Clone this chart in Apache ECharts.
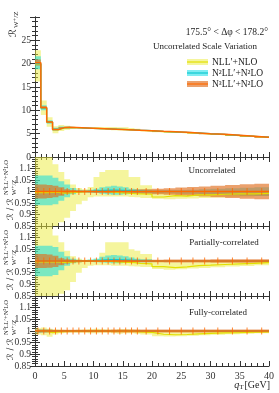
<!DOCTYPE html>
<html><head><meta charset="utf-8">
<script src="https://cdn.jsdelivr.net/npm/echarts@6/dist/echarts.min.js"></script>
<style>html,body{margin:0;padding:0;background:#fff}#c{width:279px;height:393px}</style>
</head><body><div id="c"></div>
<script>
// bin edges (GeV)
const edges = [0,1,2,3,4,5,6,7,8,9,10,11,12,13,14,15,16,17,18,20,22,24,26,28,30,32.5,35,37.5,40];
const xTicks = [0,5,10,15,20,25,30,35,40];
const legendNames = ["NLL\u2032+NLO","N\u00b2LL\u2032+N\u00b2LO","N\u00b3LL\u2032+N\u00b2LO"];
const panelNames = ["Uncorrelated","Partially-correlated","Fully-correlated"];

// top panel: R_{W+/Z}
const topO = [20.2,10.6,7.5,5.9,6.3,6.35,6.3,6.25,6.2,6.15,6.1,6.05,6.0,5.95,5.9,5.85,5.8,5.75,5.65,5.5,5.4,5.3,5.15,5.0,4.85,4.65,4.45,4.25];
const topY = [19.9,10.5,7.45,5.85,6.2,6.3,6.27,6.24,6.2,6.14,6.12,6.1,6.06,6.0,5.95,5.88,5.8,5.73,5.6,5.42,5.33,5.23,5.09,4.95,4.8,4.6,4.41,4.22];
const topC = [20.0,10.5,7.5,5.9,6.3,6.33,6.3,6.25,6.2,6.15,6.1,6.06,6.02,5.97,5.92,5.87,5.81,5.75,5.65,5.5,5.4,5.3,5.15,5.0,4.85,4.65,4.45,4.25];
const topYHi = [22.9,12.1,8.5,6.6,6.85,6.7,6.5,6.35,6.27,6.27,6.35,6.4,6.45,6.45,6.4,6.35,6.2,6.05,5.8,5.55,5.42,5.3,5.15,5.0,4.85,4.65,4.45,4.25];
const topYLo = [16.2,9.0,6.5,5.1,5.55,5.85,6.0,6.1,6.1,6.0,5.95,5.85,5.8,5.75,5.7,5.65,5.6,5.55,5.45,5.3,5.22,5.12,5.0,4.85,4.72,4.52,4.33,4.15];
const topCHi = [21.6,11.1,7.9,6.25,6.55,6.5,6.38,6.3,6.25,6.2,6.17,6.15,6.12,6.08,6.02,5.95,5.87,5.8,5.7,5.55,5.45,5.35,5.2,5.05,4.9,4.7,4.5,4.3];
const topCLo = [18.8,10.0,7.1,5.6,6.0,6.15,6.2,6.2,6.15,6.1,6.05,6.0,5.96,5.92,5.87,5.82,5.76,5.7,5.6,5.45,5.33,5.22,5.07,4.92,4.77,4.57,4.37,4.17];
const topOHi = [20.9,10.9,7.7,6.05,6.42,6.42,6.33,6.27,6.22,6.17,6.12,6.08,6.03,5.98,5.94,5.9,5.85,5.8,5.72,5.58,5.5,5.41,5.27,5.13,4.99,4.8,4.6,4.41];
const topOLo = [19.6,10.3,7.3,5.75,6.18,6.28,6.27,6.23,6.18,6.13,6.08,6.02,5.97,5.92,5.86,5.8,5.75,5.7,5.58,5.42,5.3,5.19,5.03,4.87,4.71,4.5,4.3,4.09];

// ratio panels (ratio to N3LL'+N2LO central)
const ratioO = [1,1,1,1,1,1,1,1,1,1,1,1,1,1,1,1,1,1,1,1,1,1,1,1,1,1,1,1];
// Uncorrelated
const uYHi = [1.2,1.2,1.2,1.118,1.085,1.053,1.03,1.015,1.01,1.02,1.063,1.085,1.093,1.093,1.093,1.093,1.063,1.063,1.027,0.998,0.995,0.995,0.995,0.995,0.997,0.998,0.999,1.0];
const uYLo = [0.8,0.8,0.8,0.8,0.866,0.886,0.915,0.945,0.96,0.975,0.978,0.978,0.978,0.978,0.978,0.978,0.976,0.975,0.972,0.968,0.966,0.968,0.97,0.972,0.974,0.976,0.978,0.98];
const uY = [0.995,0.995,0.996,0.996,0.993,0.994,0.996,0.998,1.0,1.0,1.0,1.0,0.998,0.996,0.994,0.993,0.991,0.99,0.988,0.976,0.982,0.98,0.985,0.985,0.988,0.99,0.99,0.992];
const uCHi = [1.07,1.07,1.07,1.06,1.045,1.03,1.015,1.008,1.005,1.008,1.012,1.018,1.022,1.025,1.022,1.018,1.012,1.01,1.008,1.006,1.006,1.006,1.008,1.01,1.012,1.014,1.016,1.018];
const uCLo = [0.94,0.94,0.94,0.945,0.96,0.975,0.988,0.994,0.996,0.995,0.993,0.99,0.988,0.986,0.986,0.988,0.99,0.992,0.992,0.992,0.992,0.99,0.99,0.988,0.986,0.984,0.982,0.98];
const uC = [1.0,1.0,1.0,1.0,1.0,1.0,1.0,1.0,1.0,1.002,1.004,1.005,1.006,1.006,1.005,1.004,1.003,1.002,1.0,1.0,1.0,1.0,1.0,1.0,1.0,1.0,1.0,1.0];
const uOHi = [1.03,1.03,1.028,1.025,1.018,1.01,1.006,1.004,1.004,1.004,1.005,1.005,1.006,1.006,1.007,1.007,1.008,1.009,1.01,1.012,1.014,1.017,1.02,1.022,1.025,1.028,1.031,1.034];
const uOLo = [0.97,0.97,0.972,0.975,0.982,0.99,0.994,0.996,0.996,0.996,0.995,0.995,0.994,0.994,0.993,0.993,0.992,0.991,0.99,0.988,0.986,0.983,0.98,0.978,0.975,0.972,0.969,0.966];
// Partially-correlated
const pYHi = [1.2,1.2,1.2,1.109,1.08,1.044,1.02,1.01,1.005,1.005,1.01,1.035,1.08,1.08,1.08,1.08,1.05,1.044,1.03,1.0,0.995,0.995,0.995,0.997,0.998,0.999,1.0,1.0];
const pYLo = [0.8,0.8,0.8,0.8,0.86,0.875,0.91,0.95,0.97,0.98,0.982,0.982,0.982,0.98,0.98,0.98,0.978,0.976,0.974,0.966,0.962,0.965,0.968,0.97,0.973,0.976,0.979,0.982];
const pY = [0.996,0.996,0.996,0.996,0.994,0.995,0.997,0.998,1.0,1.0,1.0,0.999,0.998,0.996,0.995,0.994,0.993,0.99,0.988,0.976,0.972,0.975,0.98,0.982,0.985,0.988,0.99,0.993];
const pCHi = [1.065,1.065,1.065,1.06,1.04,1.02,1.01,1.005,1.004,1.006,1.01,1.018,1.024,1.026,1.024,1.02,1.015,1.01,1.007,1.004,1.003,1.003,1.003,1.003,1.003,1.003,1.003,1.003];
const pCLo = [0.935,0.935,0.935,0.94,0.96,0.98,0.99,0.995,0.996,0.996,0.995,0.994,0.992,0.99,0.99,0.991,0.993,0.994,0.995,0.996,0.996,0.996,0.996,0.996,0.996,0.996,0.996,0.996];
const pC = [1.0,1.0,1.0,1.0,1.0,1.0,1.0,1.0,1.0,1.001,1.003,1.005,1.006,1.006,1.005,1.004,1.003,1.002,1.0,1.0,1.0,1.0,1.0,1.0,1.0,1.0,1.0,1.0];
const pOHi = [1.03,1.03,1.028,1.022,1.012,1.007,1.005,1.004,1.004,1.004,1.004,1.004,1.004,1.004,1.005,1.005,1.005,1.005,1.005,1.005,1.006,1.006,1.006,1.006,1.007,1.007,1.007,1.007];
const pOLo = [0.97,0.97,0.971,0.974,0.982,0.989,0.993,0.995,0.996,0.996,0.996,0.996,0.996,0.996,0.995,0.995,0.995,0.995,0.995,0.995,0.994,0.994,0.994,0.994,0.993,0.993,0.993,0.993];
// Fully-correlated
const fYHi = [1.012,1.015,1.01,1.006,1.005,1.004,1.004,1.005,1.006,1.008,1.01,1.008,1.006,1.005,1.008,1.008,1.006,1.005,1.004,0.998,0.996,0.996,0.998,0.999,1.0,1.001,1.002,1.002];
const fYLo = [0.985,0.982,0.975,0.985,0.99,0.993,0.993,0.992,0.992,0.99,0.99,0.992,0.992,0.99,0.988,0.99,0.99,0.988,0.985,0.978,0.976,0.977,0.98,0.982,0.984,0.986,0.988,0.99];
const fY = [0.998,0.998,0.993,0.996,0.997,0.998,0.998,0.999,1.0,1.0,1.0,1.0,0.999,0.998,0.998,0.999,0.998,0.996,0.994,0.986,0.984,0.985,0.988,0.99,0.992,0.993,0.995,0.996];
const fCHi = [1.006,1.006,1.005,1.004,1.004,1.003,1.003,1.003,1.003,1.003,1.003,1.003,1.003,1.003,1.003,1.003,1.003,1.003,1.003,1.003,1.003,1.003,1.003,1.003,1.003,1.003,1.003,1.003];
const fCLo = [0.992,0.994,0.995,0.996,0.996,0.997,0.997,0.997,0.997,0.997,0.997,0.997,0.997,0.997,0.997,0.997,0.997,0.997,0.997,0.997,0.997,0.997,0.997,0.997,0.997,0.997,0.997,0.997];
const fC = [0.999,1.0,1.0,1.0,1.0,1.0,1.0,1.0,1.0,1.0,1.0,1.0,1.0,1.0,1.0,1.0,1.0,1.0,1.0,1.0,1.0,1.0,1.0,1.0,1.0,1.0,1.0,1.0];
const fOHi = [1.006,1.006,1.006,1.005,1.005,1.005,1.005,1.005,1.005,1.005,1.005,1.005,1.005,1.006,1.006,1.006,1.006,1.006,1.006,1.006,1.006,1.006,1.006,1.006,1.006,1.006,1.006,1.006];
const fOLo = [0.994,0.994,0.994,0.995,0.995,0.995,0.995,0.995,0.995,0.995,0.995,0.995,0.995,0.994,0.994,0.994,0.994,0.994,0.994,0.994,0.994,0.994,0.994,0.994,0.994,0.994,0.994,0.994];

const FONT = "'Liberation Serif','DejaVu Serif',serif";
const COL = {
  yBand: 'rgba(235,235,60,0.5)', cBand: 'rgba(0,220,230,0.5)', oBand: 'rgba(225,110,30,0.65)',
  yLine: '#e2e000', cLine: '#10c8d0', oLine: '#ff6a00', ax: '#333'
};
const grids = [
  {left:35, right:10, top:17, height:140},
  {left:35, right:10, top:157, height:69},
  {left:35, right:10, top:226, height:70},
  {left:35, right:10, top:296, height:70}
];

function stepPts(vals){ const p=[]; vals.forEach((v,i)=>{p.push([edges[i],v]);p.push([edges[i+1],v]);}); return p; }
function band(g, lo, hi, color){
  return {type:'custom', xAxisIndex:2*g, yAxisIndex:2*g, clip:true, silent:true, z:2, data:[[0,0]],
    renderItem:(params, api)=>{
      const up=[], dn=[];
      lo.forEach((l,i)=>{ up.push(api.coord([edges[i],hi[i]]), api.coord([edges[i+1],hi[i]]));
                         dn.push(api.coord([edges[i],l]), api.coord([edges[i+1],l])); });
      return {type:'polygon', shape:{points: up.concat(dn.reverse())}, style:{fill:color}};
    }};
}
function line(g, vals, color, w){
  return {type:'line', xAxisIndex:2*g, yAxisIndex:2*g, data:stepPts(vals), showSymbol:false, symbol:'none',
    lineStyle:{color:color, width:w}, z:5, silent:true, animation:false};
}
function bars(g, vals){
  return {type:'scatter', xAxisIndex:2*g, yAxisIndex:2*g, symbol:'rect', symbolSize:[1,7], z:6, silent:true,
    itemStyle:{color:COL.oLine}, data: vals.map((v,i)=>[(edges[i]+edges[i+1])/2, v])};
}

const xAxes=[], yAxes=[];
grids.forEach((gr,g)=>{
  const isTop = g===0, isLast = g===3;
  const common = {type:'value', gridIndex:g, min:0, max:40, interval:5,
    axisLine:{show:true, lineStyle:{color:COL.ax, width:1}},
    axisTick:{show:true, inside:true, length:5, lineStyle:{color:COL.ax}},
    minorTick:{show:true, splitNumber:5, length:3, lineStyle:{color:COL.ax}},
    splitLine:{show:false}, minorSplitLine:{show:false}};
  xAxes.push(Object.assign({}, common, {position:'bottom',
    axisLabel:{show:isLast, fontFamily:FONT, fontSize:10, color:'#333', margin:5}}));
  xAxes.push(Object.assign({}, common, {position:'top', axisLabel:{show:false}}));
  const yr = isTop ? {min:0, max:30, interval:5} : {min:0.85, max:1.15, interval:0.05};
  const ycommon = Object.assign({type:'value', gridIndex:g,
    axisLine:{show:true, lineStyle:{color:COL.ax, width:1}},
    axisTick:{show:true, inside:true, length:5, lineStyle:{color:COL.ax}},
    minorTick:{show:true, splitNumber:5, length:3, lineStyle:{color:COL.ax}},
    splitLine:{show:false}, minorSplitLine:{show:false}}, yr);
  yAxes.push(Object.assign({}, ycommon, {position:'left',
    axisLabel:{show:true, fontFamily:FONT, fontSize:9.5, color:'#333', margin:4,
      formatter:(v)=>{ if (Math.abs(v-yr.max)<1e-6) return ''; return String(+v.toFixed(2)); }}}));
  yAxes.push(Object.assign({}, ycommon, {position:'right', axisLabel:{show:false}}));
});

const series = [
  band(0, topYLo, topYHi, COL.yBand), band(0, topCLo, topCHi, COL.cBand), band(0, topOLo, topOHi, COL.oBand),
  line(0, topY, COL.yLine, 1.2), line(0, topC, COL.cLine, 1.2), line(0, topO, COL.oLine, 1.5)
];
[[uYLo,uYHi,uY,uCLo,uCHi,uC,uOLo,uOHi],[pYLo,pYHi,pY,pCLo,pCHi,pC,pOLo,pOHi],[fYLo,fYHi,fY,fCLo,fCHi,fC,fOLo,fOHi]]
.forEach((d,k)=>{
  const g=k+1;
  series.push(band(g,d[0],d[1],COL.yBand), band(g,d[3],d[4],COL.cBand), band(g,d[6],d[7],COL.oBand),
    line(g,d[2],COL.yLine,1.2), line(g,d[5],COL.cLine,1.2), line(g,ratioO,COL.oLine,1.5), bars(g, ratioO));
});

const T = (x,y,text,opt)=>({type:'text', x:x, y:y, silent:true, z:20,
  style:Object.assign({text:text, fontFamily:FONT, fontSize:9, fill:'#222', align:'left', verticalAlign:'middle'}, opt||{})});

const graphic = [
  T(268, 32, "175.5\u00b0 < \u0394\u03c6 < 178.2\u00b0", {align:'right', fontSize:9.5}),
  T(205, 47, "Uncorrelated Scale Variation", {align:'center', fontSize:9}),
];
const legY=[62,73,84], legBand=[COL.yBand,COL.cBand,COL.oBand], legLine=[COL.yLine,COL.cLine,COL.oLine];
legendNames.forEach((n,i)=>{
  graphic.push({type:'rect', shape:{x:187,y:legY[i]-3,width:21,height:6}, style:{fill:legBand[i]}, silent:true, z:20});
  graphic.push({type:'line', shape:{x1:187,y1:legY[i],x2:208,y2:legY[i]}, style:{stroke:legLine[i], lineWidth:1.2}, silent:true, z:21});
  graphic.push(T(212, legY[i], n, {fontSize:9.5}));
});
graphic.push(T(212, 171, panelNames[0], {align:'center'}));
graphic.push(T(224, 243, panelNames[1], {align:'center'}));
graphic.push(T(218, 313, panelNames[2], {align:'center'}));
// x-axis title
graphic.push({type:'text', x:270, y:385, silent:true, z:20, style:{
  text:'{i|q}{s|T}{n|[GeV]}', align:'right', verticalAlign:'middle',
  rich:{i:{fontFamily:FONT, fontStyle:'italic', fontSize:10, fill:'#222', lineHeight:12, verticalAlign:'middle'},
        s:{fontFamily:FONT, fontSize:7, fill:'#222', lineHeight:12, verticalAlign:'bottom', padding:[0,1,0,0]},
        n:{fontFamily:FONT, fontSize:10, fill:'#222', lineHeight:12, verticalAlign:'middle'}}}});
// y-axis titles (rotated groups)
graphic.push({type:'group', x:13, y:37, rotation:Math.PI/2, silent:true, z:20, children:[
  {type:'text', x:0, y:0, style:{text:'\u211b', fontFamily:"'DejaVu Serif','DejaVu Sans',serif", fontSize:10, fill:'#222', align:'left', verticalAlign:'middle'}},
  {type:'text', x:9, y:3, style:{text:'W\u207a/Z', fontFamily:FONT, fontSize:7, fill:'#222', align:'left', verticalAlign:'middle'}}
]});
[ [191,157,69], [261,226,70], [331,296,70] ].forEach((p)=>{
  const cy = p[0];
  graphic.push({type:'group', x:11, y:cy+29, rotation:Math.PI/2, silent:true, z:20, children:[
    {type:'text', x:0, y:0, style:{text:'\u211b / \u211b', fontFamily:"'DejaVu Serif','DejaVu Sans',serif", fontSize:8.5, fill:'#222', align:'left', verticalAlign:'middle'}},
    {type:'text', x:25, y:-4.5, style:{text:'N\u00b3LL\u2032+N\u00b2LO', fontFamily:FONT, fontSize:6.5, fill:'#222', align:'left', verticalAlign:'middle'}},
    {type:'text', x:25, y:3.5, style:{text:'W\u207a/Z', fontFamily:FONT, fontSize:6.5, fill:'#222', align:'left', verticalAlign:'middle'}}
  ]});
});

const chart = echarts.init(document.getElementById('c'), null, {renderer:'canvas'});
chart.setOption({animation:false, backgroundColor:'#fff', grid:grids, xAxis:xAxes, yAxis:yAxes, series:series, graphic:graphic});
</script></body></html>
